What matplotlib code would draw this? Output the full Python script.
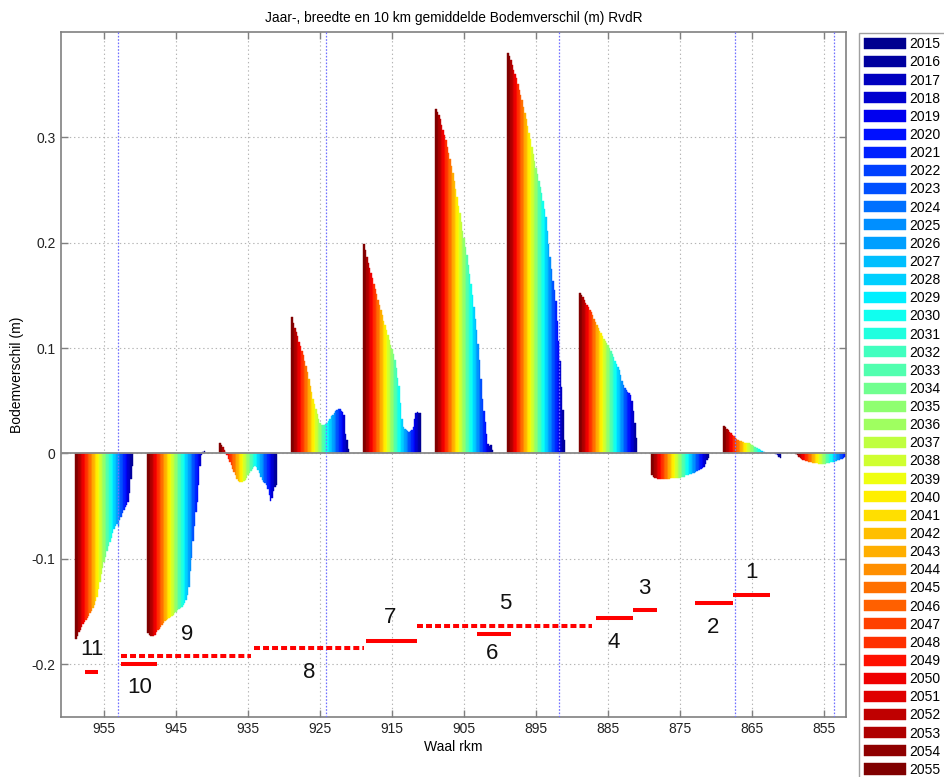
import matplotlib
matplotlib.use("Agg")
import matplotlib.pyplot as plt
import numpy as np

plt.rcParams['font.family'] = ['Liberation Sans', 'DejaVu Sans']
plt.rcParams['lines.scale_dashes'] = False

TITLE = "Jaar-, breedte en 10 km gemiddelde Bodemverschil (m) RvdR"
XLABEL = "Waal rkm"
YLABEL = "Bodemverschil (m)"

years = list(range(2015, 2056))
rkm_centers = [955, 945, 935, 925, 915, 905, 895, 885, 875, 865, 855]

# Bodemverschil (m) per 10-km vak, per jaar van 2055 (links in de groep) t/m 2015
dz_955 = [-0.176, -0.173, -0.170, -0.168, -0.165, -0.162, -0.160, -0.158, -0.156, -0.154,
          -0.152, -0.150, -0.147, -0.144, -0.140, -0.136, -0.129, -0.122, -0.115, -0.109,
          -0.103, -0.098, -0.093, -0.088, -0.084, -0.080, -0.076, -0.072, -0.069, -0.067,
          -0.069, -0.063, -0.060, -0.057, -0.054, -0.051, -0.049, -0.046, -0.038, -0.024, -0.012]
dz_945 = [-0.171, -0.172, -0.173, -0.173, -0.173, -0.172, -0.170, -0.168, -0.167, -0.165,
          -0.163, -0.161, -0.159, -0.158, -0.157, -0.156, -0.155, -0.154, -0.153, -0.152,
          -0.151, -0.149, -0.148, -0.147, -0.146, -0.144, -0.142, -0.139, -0.134, -0.127,
          -0.112, -0.099, -0.083, -0.069, -0.056, -0.046, -0.030, -0.012, -0.002, 0.001, 0.002]
dz_935 = [0.010, 0.008, 0.006, 0.003, 0.001, -0.002, -0.005, -0.008, -0.011, -0.015,
          -0.018, -0.021, -0.024, -0.026, -0.027, -0.027, -0.027, -0.026, -0.025, -0.023,
          -0.021, -0.019, -0.017, -0.015, -0.013, -0.012, -0.013, -0.016, -0.019, -0.022,
          -0.025, -0.027, -0.028, -0.030, -0.034, -0.040, -0.045, -0.042, -0.036, -0.032, -0.030]
dz_925 = [0.129, 0.124, 0.119, 0.115, 0.111, 0.106, 0.102, 0.097, 0.093, 0.088,
          0.083, 0.077, 0.071, 0.064, 0.058, 0.052, 0.047, 0.042, 0.037, 0.033,
          0.029, 0.027, 0.027, 0.027, 0.028, 0.029, 0.031, 0.033, 0.035, 0.036,
          0.038, 0.040, 0.041, 0.042, 0.042, 0.040, 0.039, 0.036, 0.018, 0.013, 0.004]
dz_915 = [0.199, 0.193, 0.186, 0.181, 0.176, 0.171, 0.166, 0.161, 0.156, 0.151,
          0.146, 0.141, 0.136, 0.131, 0.126, 0.122, 0.117, 0.112, 0.108, 0.103,
          0.099, 0.094, 0.089, 0.081, 0.072, 0.064, 0.048, 0.033, 0.025, 0.023,
          0.022, 0.021, 0.020, 0.021, 0.022, 0.025, 0.033, 0.038, 0.039, 0.038, 0.038]
dz_905 = [0.327, 0.324, 0.321, 0.317, 0.312, 0.307, 0.302, 0.297, 0.291, 0.285,
          0.279, 0.273, 0.266, 0.259, 0.251, 0.243, 0.235, 0.228, 0.220, 0.211,
          0.204, 0.196, 0.188, 0.179, 0.170, 0.161, 0.150, 0.139, 0.128, 0.117,
          0.104, 0.089, 0.071, 0.052, 0.040, 0.030, 0.018, 0.009, 0.007, 0.008, 0.003]
dz_895 = [0.380, 0.377, 0.373, 0.369, 0.364, 0.360, 0.356, 0.351, 0.345, 0.340,
          0.335, 0.329, 0.323, 0.317, 0.311, 0.304, 0.298, 0.291, 0.284, 0.278,
          0.271, 0.265, 0.259, 0.253, 0.247, 0.240, 0.232, 0.224, 0.211, 0.199,
          0.186, 0.175, 0.164, 0.155, 0.145, 0.126, 0.107, 0.088, 0.063, 0.041, 0.013]
dz_885 = [0.152, 0.150, 0.148, 0.146, 0.143, 0.141, 0.139, 0.136, 0.134, 0.131,
          0.128, 0.125, 0.122, 0.119, 0.116, 0.114, 0.111, 0.109, 0.107, 0.105,
          0.103, 0.100, 0.097, 0.094, 0.091, 0.088, 0.085, 0.082, 0.079, 0.074,
          0.069, 0.065, 0.062, 0.060, 0.058, 0.057, 0.055, 0.050, 0.040, 0.029, 0.015]
dz_875 = [-0.021, -0.022, -0.023, -0.023, -0.024, -0.024, -0.024, -0.024, -0.024, -0.024,
          -0.024, -0.024, -0.024, -0.023, -0.023, -0.023, -0.023, -0.023, -0.023, -0.023,
          -0.023, -0.022, -0.022, -0.022, -0.021, -0.021, -0.021, -0.020, -0.020, -0.019,
          -0.019, -0.018, -0.017, -0.016, -0.016, -0.015, -0.014, -0.013, -0.010, -0.006, -0.004]
dz_865 = [0.026, 0.025, 0.023, 0.022, 0.020, 0.019, 0.017, 0.016, 0.015, 0.014,
          0.013, 0.012, 0.012, 0.011, 0.011, 0.010, 0.010, 0.010, 0.010, 0.009,
          0.008, 0.007, 0.006, 0.005, 0.005, 0.004, 0.003, 0.002, 0.001, 0.001,
          0.000, 0.000, 0.000, 0.000, 0.000, 0.000, 0.000, -0.001, -0.002, -0.003, -0.004]
dz_855 = [-0.001, -0.002, -0.003, -0.004, -0.005, -0.006, -0.006, -0.007, -0.007, -0.008,
          -0.008, -0.008, -0.009, -0.009, -0.009, -0.009, -0.010, -0.010, -0.010, -0.010,
          -0.010, -0.010, -0.009, -0.009, -0.009, -0.008, -0.008, -0.008, -0.007, -0.007,
          -0.006, -0.006, -0.005, -0.005, -0.004, -0.003, -0.003, -0.002, -0.002, -0.001, -0.001]

# blauwe stippellijnen (grenzen)
boundaries = [953.1, 924.2, 891.8, 867.4, 853.6]

# rode trajectlijnen
seg_ids = ['1', '2', '3', '4', '5', '6', '7', '8', '9', '10', '11']
seg_from = [867.6, 873.0, 881.5, 886.7, 911.6, 903.2, 918.6, 934.2, 952.6, 952.7, 957.7]
seg_to = [862.5, 867.6, 878.2, 881.5, 887.2, 898.5, 911.6, 918.9, 934.6, 947.6, 955.8]
seg_level = [-0.1345, -0.1418, -0.1487, -0.1563, -0.1643, -0.1712, -0.1780, -0.1850, -0.1925, -0.2000, -0.2073]
seg_dashed = [False, False, False, False, True, False, False, True, True, False, False]
label_x = [865.1, 870.4, 880.0, 884.2, 899.3, 901.1, 915.3, 926.5, 943.5, 950.1, 956.75]
label_y = [-0.113, -0.165, -0.128, -0.1795, -0.1425, -0.190, -0.1563, -0.208, -0.1715, -0.222, -0.1858]

xticks = [955, 945, 935, 925, 915, 905, 895, 885, 875, 865, 855]
yticks = [-0.2, -0.1, 0.0, 0.1, 0.2, 0.3]
ytick_labels = ['-0.2', '-0.1', '0', '0.1', '0.2', '0.3']


def matlab_jet(m=64):
    n = int(np.ceil(m / 4))
    u = np.concatenate([np.arange(1, n + 1) / n, np.ones(n - 1), np.arange(n, 0, -1) / n])
    g = int(np.ceil(n / 2)) - (1 if m % 4 == 1 else 0) + np.arange(1, len(u) + 1)
    r = g + n
    b = g - n
    g = g[g <= m]
    r = r[r <= m]
    b = b[b >= 1]
    J = np.zeros((m, 3))
    J[r - 1, 0] = u[:len(r)]
    J[g - 1, 1] = u[:len(g)]
    J[b - 1, 2] = u[len(u) - len(b):]
    return J


W, H, DPI = 944, 777, 100
fig = plt.figure(figsize=(W / DPI, H / DPI), dpi=DPI)
fig.patch.set_facecolor('white')
ax = fig.add_axes([61 / W, 1 - 716.7 / H, (845.7 - 61) / W, (716.7 - 32) / H])

clusters = [dz_955, dz_945, dz_935, dz_925, dz_915, dz_905, dz_895, dz_885, dz_875, dz_865, dz_855]
vals = np.array(clusters)[:, ::-1]   # kolommen in jaarvolgorde 2015..2055
n = len(years)
group_w = 8.0
bw = group_w / n
jet64 = matlab_jet(64)
centers = np.array(rkm_centers, dtype=float)
handles = []
for i, yr in enumerate(years):
    idx = min(int(i / (n - 1) * 64), 63)
    col = tuple(jet64[idx])
    xpos = centers - group_w / 2 + (i + 0.5) * bw
    h = ax.bar(xpos, vals[:, i], width=bw, color=col, edgecolor=col, linewidth=0.3,
               label=str(yr), zorder=2)
    handles.append(h)

ax.axhline(0, color='#8a8a8a', lw=1.3, zorder=3)
for b in boundaries:
    ax.axvline(b, color='#7070ff', lw=0.9, ls=(0, (1.2, 1.2)), zorder=4)

for sid, x0, x1, lv, dsh, lx, ly in zip(seg_ids, seg_from, seg_to, seg_level, seg_dashed, label_x, label_y):
    ax.plot([x0, x1], [lv, lv], color='red', lw=2.9,
            ls=(0, (4.3, 2.2)) if dsh else '-', solid_capstyle='butt',
            dash_capstyle='butt', zorder=5)
    ax.text(lx, ly, sid, fontsize=16, ha='center', va='center', color='#111111', zorder=6)

ax.set_xlim(961, 852)
ax.set_ylim(-0.25, 0.4)
ax.set_xticks(xticks)
ax.set_xticklabels([str(x) for x in xticks])
ax.set_yticks(yticks)
ax.set_yticklabels(ytick_labels)
ax.grid(True, ls=(0, (1, 2)), color='#b5b5b5', lw=0.8)
ax.set_axisbelow(True)
ax.tick_params(direction='in', top=True, right=True, length=5, width=1,
               color='#808080', labelsize=10, pad=4, labelcolor='#222222')
for s in ax.spines.values():
    s.set_color('#808080')
    s.set_linewidth(1.2)
ax.set_title(TITLE, fontsize=9.9, pad=7)
ax.set_xlabel(XLABEL, fontsize=10, labelpad=3)
ax.set_ylabel(YLABEL, fontsize=10, labelpad=5)

leg = fig.legend(handles, [str(y) for y in years], loc='upper left',
                 bbox_to_anchor=(859.3 / W, 1 - 32.7 / H), bbox_transform=fig.transFigure,
                 borderaxespad=0, fontsize=10, handlelength=3.05, handleheight=0.85,
                 handletextpad=0.25, labelspacing=0.298, borderpad=0.33,
                 fancybox=False, framealpha=1, edgecolor='#a0a0a0')
leg.get_frame().set_linewidth(1.0)

fig.savefig('out.png', dpi=DPI)
